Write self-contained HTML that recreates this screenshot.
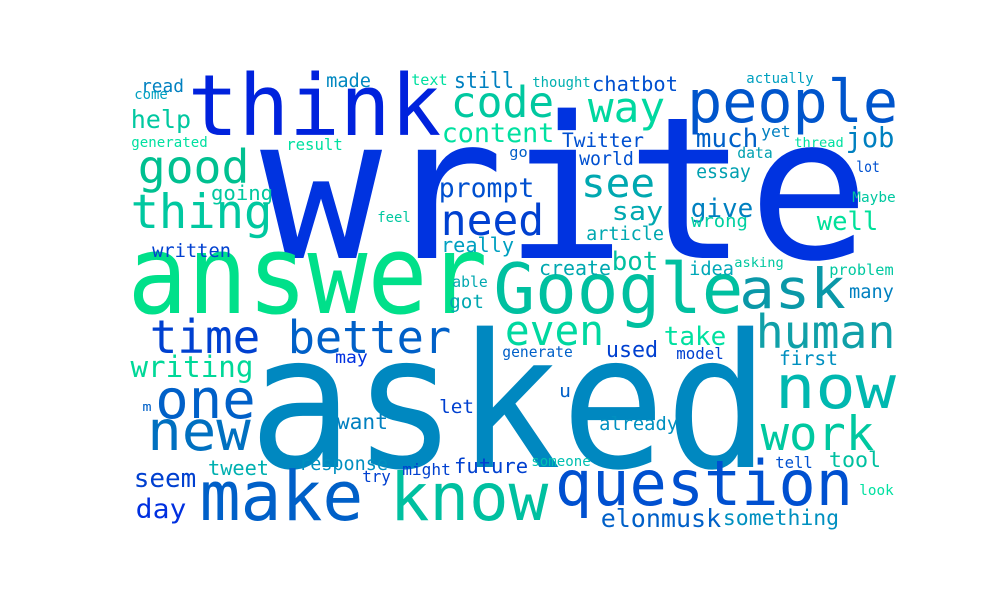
<!DOCTYPE html>
<html><head><meta charset="utf-8"><style>
html,body{margin:0;padding:0;background:#fff;}
svg{display:block;}
text{font-family:"DejaVu Sans Mono","Liberation Mono",monospace;}
</style></head><body>
<svg width="1000" height="600" viewBox="0 0 1000 600">
<rect width="1000" height="600" fill="#fff"/>
<g id="words"></g>
</svg>
<script>
// [word, ink-left, baseline, ink-right, colour, optional font size]
var W=[
["write",270,258,860,"#0033e0",198],
["asked",258,467,760,"#0088c0",186],
["answer",133,313,482,"#00e08a",110],
["think",192,135,437,"#0022dd"],
["Google",497,313,740,"#00c0a0"],
["people",690,122,895,"#0055cc"],
["ask",742,308,843,"#0a98a8",55],
["code",453,117,552,"#00c8a0"],
["way",590,122,663,"#00d8a0",42],
["good",140,183,247,"#00c090"],
["thing",133,228,270,"#00c8a0"],
["see",583,197,653,"#00a8b0",40],
["need",443,235,542,"#0040d0"],
["time",152,353,258,"#0040d0"],
["better",290,353,449,"#0060c8"],
["even",507,345,602,"#00d8a0",42],
["human",758,348,893,"#10a0a8"],
["one",158,418,253,"#0060c8",54],
["new",150,450,248,"#0070c0",55],
["now",778,408,893,"#00b8b0",60],
["make",203,520,360,"#0060c8"],
["know",393,520,545,"#00c0a0"],
["question",558,505,850,"#0050d0"],
["work",763,450,872,"#00c8a0"],
["writing",132,377,252,"#00d898"],
["job",847,147,893,"#0080c0",28],
["content",443,142,553,"#00e0a0"],
["help",132,128,190,"#00c8a0"],
["read",142,92,183,"#0080c0"],
["come",135,99,167,"#00a0c0"],
["generated",132,147,207,"#00e0a0"],
["made",327,87,370,"#0088c0"],
["text",412,85,447,"#00e0a0"],
["still",455,88,513,"#0080c0",22],
["thought",533,87,590,"#00b0b0"],
["chatbot",593,91,677,"#0050d0"],
["actually",747,83,813,"#00a0c0"],
["Twitter",563,147,643,"#0050d0"],
["much",697,147,757,"#0060c8"],
["world",580,165,633,"#0050d0"],
["yet",762,137,790,"#0080c0",16],
["data",738,158,772,"#00a0b0"],
["thread",795,147,843,"#00e0a0"],
["lot",857,172,879,"#0050d0",15],
["Maybe",853,202,895,"#00c8a0"],
["go",510,157,527,"#0060c8",14],
["result",287,150,342,"#00e0a0"],
["going",212,200,272,"#00c8a0"],
["prompt",440,197,533,"#0050d0"],
["say",613,220,662,"#00a8b0",26],
["give",692,217,752,"#0080c0",26],
["essay",697,178,750,"#00a0b0"],
["wrong",692,227,747,"#00d0a0",18],
["well",818,230,877,"#00e09a"],
["feel",378,222,410,"#00c8a0"],
["written",153,257,230,"#0040d0"],
["really",442,252,513,"#00a0c0"],
["article",587,240,663,"#00a8b0"],
["create",540,275,610,"#00a8b0"],
["bot",613,270,657,"#00c0a0",26],
["idea",690,275,733,"#00a8b8"],
["asking",735,267,783,"#00c8a0"],
["problem",830,275,893,"#00c8a0"],
["able",453,287,487,"#00a8b0"],
["got",450,308,483,"#00a8b0",19],
["many",850,298,893,"#0080c0",19],
["take",665,345,725,"#00e0a0",26],
["used",607,357,657,"#0040d0",22],
["may",336,363,367,"#0030e0",17],
["generate",503,357,572,"#0060c8"],
["model",677,359,723,"#0040d0"],
["first",780,365,837,"#0090c0"],
["let",440,413,473,"#0040d0",19],
["u",560,397,570,"#0060c8",18],
["m",143,411,151,"#0060c8",12],
["want",338,429,387,"#0080c0"],
["already",600,430,677,"#0090c0"],
["seem",135,487,195,"#0040d0"],
["tweet",209,475,268,"#00b0b0"],
["response",300,470,387,"#0090c0"],
["might",403,475,450,"#0040d0"],
["try",363,482,390,"#0040d0",16],
["future",455,473,527,"#0040d0"],
["someone",532,466,590,"#00c0b0"],
["tell",776,468,812,"#0050d0",16],
["tool",830,467,880,"#00c0a0"],
["look",860,495,893,"#00e0a0"],
["day",137,518,185,"#0030e0",27],
["elonmusk",602,527,720,"#0060c8"],
["something",724,525,838,"#0090c0"]
];
var g=document.getElementById('words');
var ns="http://www.w3.org/2000/svg";
W.forEach(function(w){
  var n=w[0].length;
  var ink=w[3]-w[1];
  var fs=w[5]||ink/(0.6*n-0.1);
  var t=document.createElementNS(ns,'text');
  t.setAttribute('x',(w[1]-fs*0.05).toFixed(1));
  t.setAttribute('y',w[2]);
  t.setAttribute('font-size',fs.toFixed(1));
  t.setAttribute('textLength',(ink+fs*0.1).toFixed(1));
  t.setAttribute('lengthAdjust','spacingAndGlyphs');
  t.setAttribute('fill',w[4]);
  
  
  t.textContent=w[0];
  g.appendChild(t);
});
</script>
</body></html>
